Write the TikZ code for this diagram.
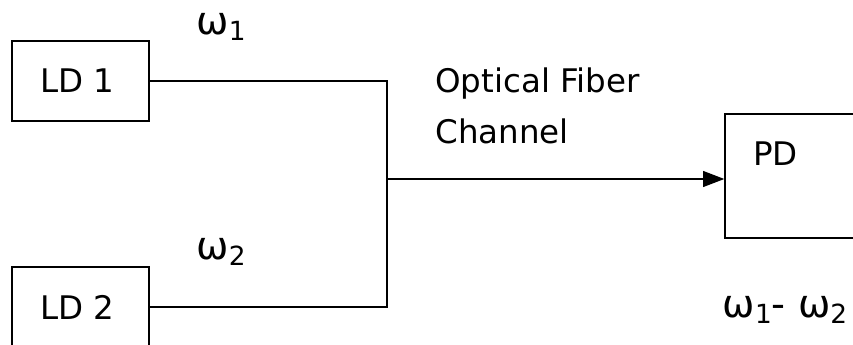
\documentclass[tikz,border=0pt]{standalone}
\usepackage{fontspec}
\setmainfont{DejaVu Sans}
\usetikzlibrary{arrows.meta}

\tikzset{
  block/.style={draw, line width=0.8pt, minimum height=1.6cm, text width=1.62cm, inner xsep=0.56cm, align=left},
  wire/.style={line width=0.8pt},
  lbl/.style={inner sep=0pt},
  freq/.style={inner sep=0pt, font=\fontsize{22}{24}\selectfont}
}
\newcommand{\om}[1]{ω\raisebox{-3pt}{\fontsize{15}{16}\selectfont #1}}

\begin{document}
\begin{tikzpicture}[x=0.02cm,y=-0.02cm,font=\fontsize{18.5}{22}\selectfont]
    \clip (0,0) rectangle (853,345);
    \node[block] (ld1) at (80.5,81) {LD 1};
    \node[block] (ld2) at (80.5,307) {LD 2};
    \node[draw, line width=0.8pt, minimum width=2.8cm, minimum height=2.48cm] (pd) at (795,176) {};
    \coordinate (jn) at (387,179);
    \draw[wire] (ld1.east) -- (ld1.east -| jn) -- (ld2.east -| jn) -- (ld2.east);
    \draw[wire, -{Triangle[length=12pt,width=9pt]}] (jn) -- (jn -| pd.west);
    \node[freq] (w1) at (221,27) {\om{1}};
    \node[freq] (w2) at (221,252) {\om{2}};
    \node[lbl, anchor=base west] (fib1) at (435,92) {Optical Fiber};
    \node[lbl, anchor=base west] (fib2) at (435,143) {Channel};
    \node[lbl, anchor=base west] (pdname) at (753,165) {PD};
    \node[freq] (wdiff) at (785,310) {\om{1}- \om{2}};
\end{tikzpicture}
\end{document}
